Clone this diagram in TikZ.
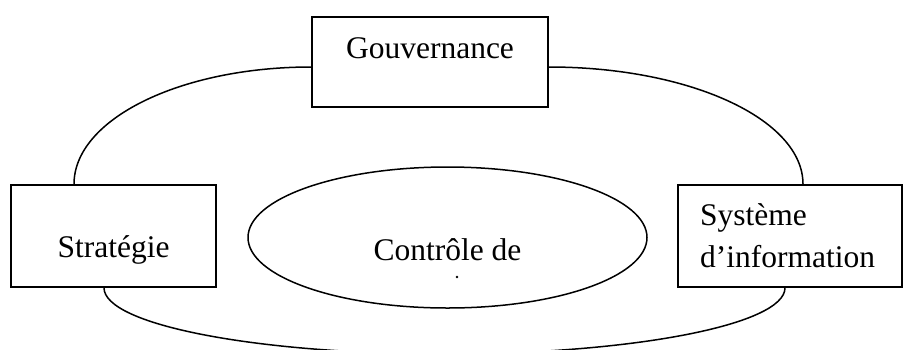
\documentclass[tikz,border=0pt]{standalone}
\usepackage{fontspec}
\setmainfont{Liberation Serif}
\usetikzlibrary{shapes.geometric,calc}
\begin{document}
\begin{tikzpicture}[x=1pt,y=-1pt,
  boxnode/.style={draw=black,line width=1.6pt,fill=white,rectangle,inner sep=0pt},
  loopline/.style={draw=black,line width=1.5pt},
  lbl/.style={inner sep=0pt,anchor=base,font=\fontsize{31.5}{36}\selectfont}]
\useasboundingbox (0,0) rectangle (904,349);
\clip (0,0) rectangle (904,349);
% boxes
\node[boxnode,minimum width=236pt,minimum height=90pt] (gouv) at (430,62) {};
\node[boxnode,minimum width=205pt,minimum height=102pt] (strat) at (113.5,236) {};
\node[boxnode,minimum width=224pt,minimum height=102pt] (sys) at (790,236) {};
\node[draw=black,line width=1.5pt,ellipse,inner sep=0pt,minimum width=399pt,minimum height=141pt] (ctrl) at (447.5,237.5) {};
% connectors
\draw[loopline] ([xshift=-39.5pt]strat.north) .. controls +(0,-65) and +(-131,0) .. ([yshift=-5pt]gouv.west);
\draw[loopline] ([yshift=-5pt]gouv.east) .. controls +(141,0) and +(0,-65) .. ([xshift=13pt]sys.north);
\coordinate (bottom) at (444.5,354);
\draw[loopline] ([xshift=-9.5pt]strat.south) .. controls +(0,37) and +(-188,0) .. (bottom)
  .. controls +(188,0) and +(0,37) .. ([xshift=-5pt]sys.south);
% texts
\node[lbl] (gouvtxt) at (430,58) {Gouvernance};
\node[lbl] (strattxt) at (113.5,257) {Stratégie};
\node[lbl,anchor=base west] (systxt1) at (700,225) {Système};
\node[lbl,anchor=base west] (systxt2) at (700,267) {d’information};
\node[lbl] (ctrltxt) at (447.5,260) {Contrôle de};
\fill[black] (457,277) circle (1.3);
\end{tikzpicture}
\end{document}
